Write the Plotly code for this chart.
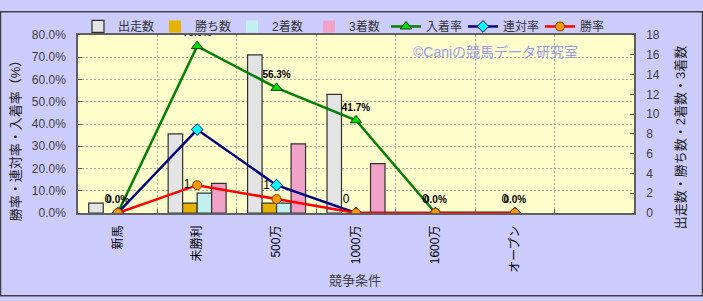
import plotly.graph_objects as go

categories = ["新馬", "未勝利", "500万", "1000万", "1600万", "オープン"]
starters = [1, 8, 16, 12, 0, 0]
wins = [0, 1, 1, 0, 0, 0]
seconds = [0, 2, 1, 0, 0, 0]
thirds = [0, 3, 7, 5, 0, 0]
place_rate = [0.0, 0.75, 0.5625, 0.4167, 0.0, 0.0]
quinella_rate = [0.0, 0.375, 0.125, 0.0, 0.0, 0.0]
win_rate = [0.0, 0.125, 0.0625, 0.0, 0.0, 0.0]
place_labels = ["0.0%", "75.0%", "56.3%", "41.7%", "0.0%", "0.0%"]
win_labels = ["0", "1", "1", "0", "0", "0"]
win_label_pos = ["top left", "middle left", "top left", "top left", "top left", "top left"]

FONT = "Liberation Sans, Noto Sans CJK JP, sans-serif"
W, H = 703, 301
L, R, T, B = 78, 69, 25, 88
PW, PH = W - L - R, H - T - B

fig = go.Figure()
bar_specs = [
    ("出走数", starters, "#E4E4E4"),
    ("勝ち数", wins, "#E6B400"),
    ("2着数", seconds, "#C2F0F0"),
    ("3着数", thirds, "#F2A2C8"),
]
for name, vals, col in bar_specs:
    fig.add_trace(go.Bar(x=categories, y=vals, name=name, yaxis="y",
                         marker=dict(color=col,
                                     line=dict(color="#303030",
                                               width=[1.2 if v else 0 for v in vals]))))

fig.add_trace(go.Scatter(x=categories, y=place_rate, name="入着率", yaxis="y2",
                         mode="lines+markers+text", text=place_labels, textposition="top center",
                         textfont=dict(size=10, color="#000000", family="Liberation Sans",
                                       weight="bold"),
                         line=dict(color="#008000", width=2.5),
                         marker=dict(symbol="triangle-up", size=10, color="#00E000",
                                     line=dict(color="#004000", width=1))))
fig.add_trace(go.Scatter(x=categories, y=quinella_rate, name="連対率", yaxis="y2",
                         mode="lines+markers", line=dict(color="#000080", width=2.5),
                         marker=dict(symbol="diamond", size=9, color="#00FFFF",
                                     line=dict(color="#000080", width=1))))
fig.add_trace(go.Scatter(x=categories, y=win_rate, name="勝率", yaxis="y2",
                         mode="lines+markers+text", text=win_labels, textposition=win_label_pos,
                         textfont=dict(size=12, color="#000000", family="Liberation Sans"),
                         line=dict(color="#FF0000", width=2.5),
                         marker=dict(symbol="circle", size=9, color="#FF9900",
                                     line=dict(color="#804000", width=1))))

axis_font = dict(family=FONT, size=12, color="#404040")
fig.update_layout(
    width=W, height=H,
    margin=dict(l=L, r=R, t=T, b=B, pad=0),
    paper_bgcolor="#CCCCFF", plot_bgcolor="#FFFFCC",
    font=dict(family=FONT, size=12, color="#404040"),
    barmode="group", bargap=0.27, bargroupgap=0,
    showlegend=True,
    legend=dict(orientation="h", x=0.0, xanchor="left", y=1.048, yanchor="middle",
                bgcolor="rgba(0,0,0,0)", font=dict(family=FONT, size=12, color="#333333"),
                entrywidth=32, entrywidthmode="pixels", traceorder="normal",
                itemwidth=30),
    xaxis=dict(type="category", categoryorder="array", categoryarray=categories,
               range=[-0.5, 6.5], tickson="boundaries", showgrid=True,
               gridcolor="#A8A8A8", griddash="2px,2px", gridwidth=1,
               ticks="inside", ticklen=4, tickcolor="#606060",
               showline=True, linecolor="#606060", linewidth=1.5, mirror=True,
               tickangle=-90, tickfont=dict(family=FONT, size=12, color="#000000"),
               ticklabelstandoff=6),
    yaxis=dict(side="right", range=[0, 18], dtick=2, showgrid=False, zeroline=False,
               ticks="inside", ticklen=4, tickcolor="#606060",
               showline=True, linecolor="#606060", linewidth=1.5,
               tickfont=axis_font, ticklabelstandoff=8),
    yaxis2=dict(overlaying="y", side="left", range=[0, 0.8], dtick=0.1, tickformat=".1%",
                showgrid=True, gridcolor="#A8A8A8", griddash="2px,2px", gridwidth=1,
                zeroline=False,
                ticks="inside", ticklen=4, tickcolor="#606060",
                showline=True, linecolor="#606060", linewidth=1.5,
                tickfont=axis_font, ticklabelstandoff=8),
)

def ann(text, px, py, size, color, angle=0):
    fig.add_annotation(text=text, xref="paper", yref="paper",
                       x=(px - L) / PW, y=(H - B - py) / PH, xanchor="center", yanchor="middle",
                       showarrow=False, textangle=angle,
                       font=dict(family=FONT, size=size, color=color))

ann("©Caniの競馬データ研究室", 495, 43, 14, "#9999EE")
ann("勝率・連対率・入着率（%）", 15, 133, 13, "#202020", -90)
ann("出走数・勝ち数・2着数・3着数", 680, 134, 13, "#202020", -90)
ann("競争条件", 355, 284, 13, "#404040")

fig.add_shape(type="rect", xref="paper", yref="paper",
              x0=(0.5 - L) / PW, x1=(W - 0.5 - L) / PW,
              y0=(H - B - (H - 0.5)) / PH, y1=(H - B - 0.5) / PH,
              line=dict(color="#404040", width=1.5), fillcolor="rgba(0,0,0,0)")

fig.write_html("out.html")
